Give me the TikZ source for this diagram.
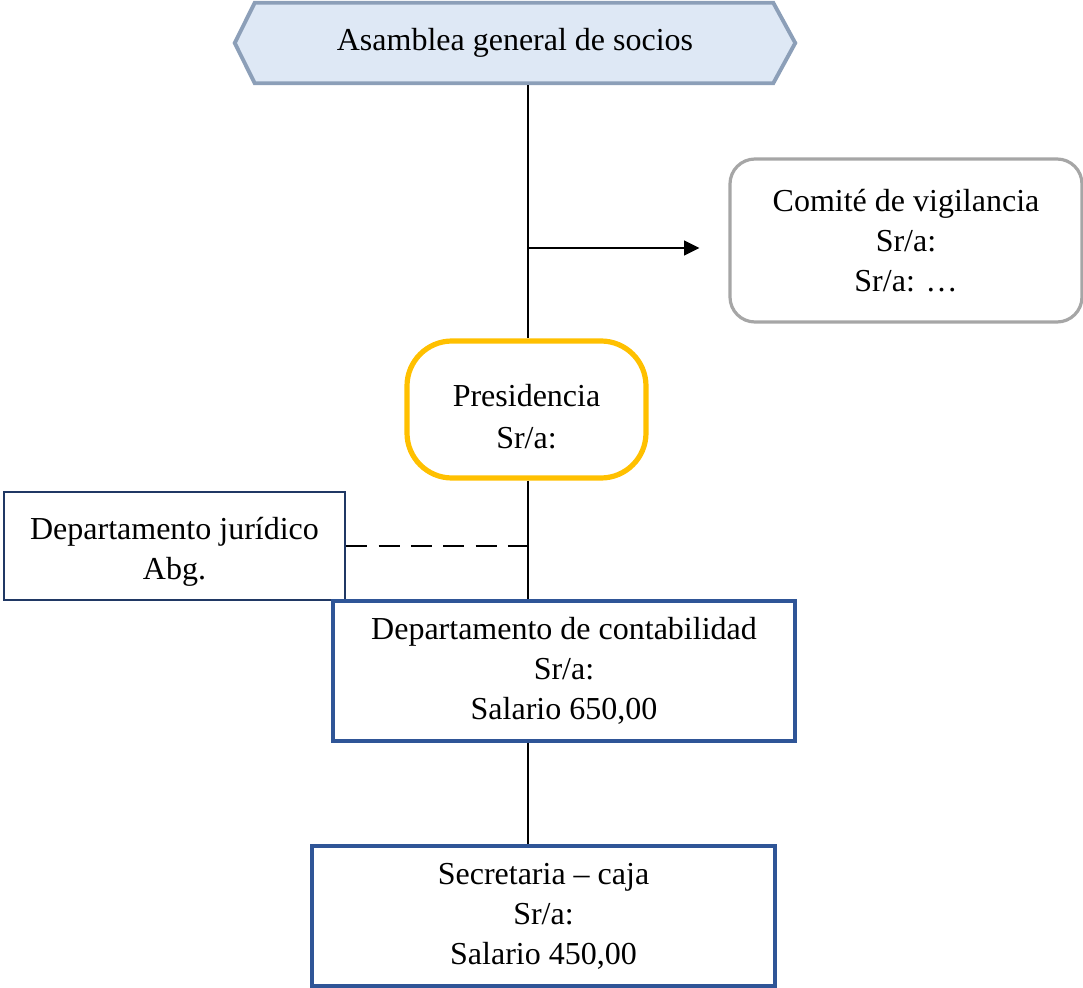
\documentclass[tikz,border=0pt]{standalone}
\usepackage{fontspec}
\setmainfont{Liberation Serif}
\usetikzlibrary{arrows.meta,backgrounds}

\definecolor{asmfill}{HTML}{DEE8F5}
\definecolor{asmline}{HTML}{8C9FB8}
\definecolor{comline}{HTML}{A6A6A6}
\definecolor{presline}{HTML}{FFC000}
\definecolor{jurline}{HTML}{203864}
\definecolor{deptline}{HTML}{2F5597}

\tikzset{
  unit/.style={inner sep=0pt, align=center, font=\fontsize{24pt}{30pt}\selectfont},
  hexbox/.style={unit, minimum width=420pt, minimum height=60pt},
  roundbox/.style={unit, draw=comline, line width=2.4pt, rounded corners=18.75pt,
                   minimum width=264pt, minimum height=122.25pt},
  headbox/.style={unit, draw=presline, line width=3.9pt, rounded corners=33.75pt,
                  minimum width=179.25pt, minimum height=102.75pt},
  sidebox/.style={unit, draw=jurline, line width=1.8pt,
                  minimum width=255.75pt, minimum height=81pt},
  deptbox/.style={unit, draw=deptline, line width=2.5pt,
                  minimum height=105pt},
  link/.style={draw=black, line width=1.7pt},
  advice/.style={link, dash pattern=on 15.75pt off 8.5pt},
  pointer/.style={link, -{Triangle[length=11.5pt,width=11pt]}}
}

\begin{document}
\begin{tikzpicture}[x=0.75pt, y=-0.75pt]
  \useasboundingbox (0,0) rectangle (1083,988);

  % nodes of the chart
  \node[hexbox] (asm) at (515,43) {Asamblea general de socios};
  \node[roundbox] (com) at (906,240.5) {Comité de vigilancia\\Sr/a:\\Sr/a: …};
  \node[headbox] (pres) at (526.5,409.5)
        {\rule{0pt}{28pt}Presidencia\\[1.5pt]Sr/a:};
  \node[sidebox] (jur) at (174.5,546) {\rule{0pt}{25pt}Departamento jurídico\\Abg.};
  \node[deptbox, minimum width=346.5pt] (con) at (564,671)
        {Departamento de contabilidad\\Sr/a:\\Salario 650,00};
  \node[deptbox, minimum width=347.25pt] (sec) at (543.5,916)
        {Secretaria – caja\\Sr/a:\\Salario 450,00};

  % hexagonal banner behind the assembly label
  \begin{pgfonlayer}{background}
    \draw[fill=asmfill, draw=asmline, line width=2.9pt, line join=miter]
      (asm.west) -- ([xshift=15pt]asm.north west) -- ([xshift=-16.5pt]asm.north east)
      -- (asm.east) -- ([xshift=-16.5pt]asm.south east) -- ([xshift=15pt]asm.south west)
      -- cycle;
  \end{pgfonlayer}

  % main vertical line of authority
  \coordinate (spine) at (528,0);
  \coordinate (branch) at (528,248);
  \coordinate (advicept) at (jur.east -| spine);
  \path[link] ([yshift=-1.5pt]asm.south -| spine) -- (pres.north -| spine);
  \path[link] (pres.south -| spine) -- (con.north -| spine);
  \path[link] (con.south -| spine) -- (sec.north -| spine);

  % oversight committee branch
  \path[pointer, shorten >=21.75pt] (branch) -- (branch -| com.west);

  % legal advice (dashed)
  \path[advice] (jur.east) -- ([xshift=1pt]advicept);
\end{tikzpicture}
\end{document}
